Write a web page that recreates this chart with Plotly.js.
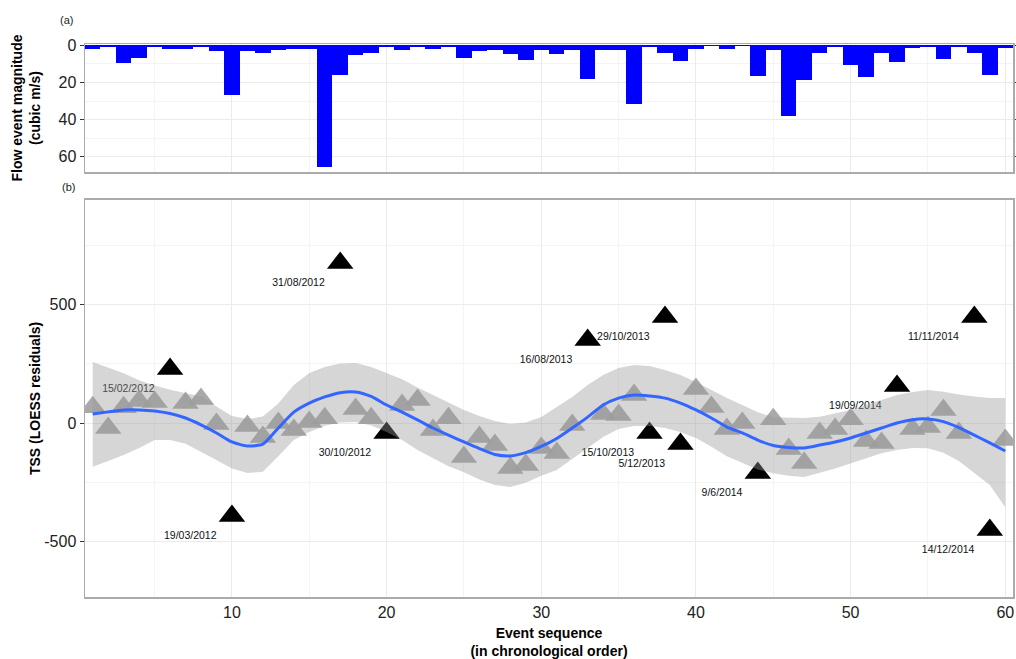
<!DOCTYPE html>
<html>
<head>
<meta charset="utf-8">
<script src="https://cdn.plot.ly/plotly-3.0.1.min.js"></script>
<style>html,body{margin:0;padding:0;background:#fff;}#chart{width:1016px;height:659px;}</style>
</head>
<body>
<div id="chart"></div>
<script>
// (a) flow event magnitude (cubic m/s), events 1..60
const flowMagnitude = [2,1,9.3,7.1,1,2,2,1,3.2,26.8,3,3.9,2.7,1.8,2,65.6,16.1,5,4.3,0.7,2.5,0.7,1.8,1,6.6,2.9,2.7,4.5,8,2.3,4.8,2.3,18,2.7,2.3,31.4,0.9,3.9,8.2,1.8,0.3,1.8,0.3,16.3,2.7,37.9,18.6,4.1,0.9,10.4,17,3.9,8.8,1.3,0.9,7.5,0.9,3.9,16.1,1.4];
const flowTickVals = [0, 20, 40, 60];

// (b) TSS LOESS residuals, ordinary events
const grayEvents = [1,2,3,4,5,7,8,9,11,12,13,14,15,16,18,19,21,22,23,24,25,26,27,28,29,30,31,32,34,35,36,40,41,42,43,45,46,47,48,49,50,51,52,54,55,56,57,60];
const grayResid = [67,-21,67,93,89,84,101,-4,-13,-59,0,-30,4,20,59,20,76,97,-30,20,-143,-59,-93,-190,-177,-105,-126,-8,38,34,118,143,68,-25,0,16,-110,-169,-42,-25,16,-76,-84,-25,-17,55,-42,-72];

// labelled events
const labelEvents = [6,10,17,20,33,37,38,39,44,53,58,59];
const labelResid = [228,-392,675,-42,350,-42,447,-89,-211,156,447,-451];
const labelDates = ['15/02/2012','19/03/2012','31/08/2012','30/10/2012','16/08/2013','15/10/2013','29/10/2013','5/12/2013','9/6/2014','19/09/2014','11/11/2014','14/12/2014'];

// smoother (fit, upper and lower confidence band), events 1..60
const smoothFit = [38,47,55,55,51,40,21,-8,-42,-80,-97,-89,-21,46,84,110,128,131,112,76,46,13,-21,-51,-80,-108,-133,-139,-125,-99,-65,-21,25,76,105,118,114,105,84,55,21,-17,-42,-72,-95,-103,-105,-93,-80,-63,-42,-21,0,14,17,6,-19,-51,-84,-118];
const smoothUpper = [257,235,210,180,158,140,127,112,70,30,17,27,82,160,211,236,251,253,236,212,185,150,118,84,55,30,8,-4,2,25,68,110,160,203,232,245,240,224,203,173,139,105,76,45,24,21,21,26,40,55,76,97,118,131,139,132,120,112,106,105];
const smoothLower = [-185,-160,-135,-105,-72,-72,-88,-122,-156,-192,-211,-206,-140,-72,-38,-12,2,4,-10,-38,-72,-114,-148,-182,-208,-238,-262,-270,-252,-222,-198,-152,-105,-59,-25,-13,-13,-21,-38,-63,-100,-140,-167,-196,-212,-222,-228,-210,-192,-172,-150,-128,-114,-105,-106,-125,-160,-210,-262,-355];
const residTickVals = [-500, 0, 500];
const residTickText = ['-500', '0', '500'];

const events = flowMagnitude.map((_, i) => i + 1);
const bandX = events.concat(events.slice().reverse());
const bandY = smoothUpper.concat(smoothLower.slice().reverse());

const gridMajor = '#EBEBEB';
const gridMinor = '#F4F4F4';
const frame = '#ABABAB';
const tickFont = {family: 'Liberation Sans, Arial, sans-serif', size: 16, color: '#222'};
const titleFont = {family: 'Liberation Sans, Arial, sans-serif', size: 14, color: '#000', weight: 'bold'};

const traces = [
  {
    type: 'bar', x: events, y: flowMagnitude, xaxis: 'x2', yaxis: 'y2',
    marker: {color: '#0000FF', line: {width: 0}}, width: 1
  },
  {
    type: 'scatter', mode: 'markers+text', x: labelEvents, y: labelResid, text: labelDates,
    textposition: 'bottom left',
    textfont: {family: 'Liberation Sans, Arial, sans-serif', size: 10.5, color: '#111'},
    marker: {symbol: 'triangle-up', size: 23, color: '#000'}, xaxis: 'x', yaxis: 'y', cliponaxis: false
  },
  {
    type: 'scatter', mode: 'markers', x: grayEvents, y: grayResid,
    marker: {symbol: 'triangle-up', size: 23, color: 'rgba(160,160,160,0.9)'}, xaxis: 'x', yaxis: 'y'
  },
  {
    type: 'scatter', mode: 'lines', x: bandX, y: bandY, fill: 'toself',
    fillcolor: 'rgba(153,153,153,0.4)', line: {width: 0, color: 'rgba(0,0,0,0)'}, xaxis: 'x3', yaxis: 'y3'
  },
  {
    type: 'scatter', mode: 'lines', x: events, y: smoothFit,
    line: {color: '#3366FF', width: 3, shape: 'spline', smoothing: 0.6}, xaxis: 'x3', yaxis: 'y3'
  }
];

const layout = {
  width: 1016, height: 659,
  margin: {l: 85, r: 3, t: 44, b: 62},
  paper_bgcolor: '#fff', plot_bgcolor: '#fff',
  showlegend: false, bargap: 0,
  font: {family: 'Liberation Sans, Arial, sans-serif'},
  xaxis: {
    domain: [0, 1], anchor: 'y', range: [0.5, 60.5], tick0: 0, dtick: 10,
    showgrid: true, gridcolor: gridMajor, gridwidth: 1,
    minor: {dtick: 5, showgrid: true, gridcolor: gridMinor, gridwidth: 1},
    showline: true, mirror: true, linecolor: frame, linewidth: 1.5,
    ticks: '', tickfont: tickFont, zeroline: false,
    title: {text: '<b>Event sequence</b><br><b>(in chronological order)</b>', font: titleFont, standoff: 10}
  },
  yaxis: {
    domain: [0, 0.718], anchor: 'x', range: [-734, 941],
    tickmode: 'array', tickvals: residTickVals, ticktext: residTickText,
    showgrid: true, gridcolor: gridMajor, gridwidth: 1,
    minor: {tickmode: 'array', tickvals: [-750, -250, 250, 750], showgrid: true, gridcolor: gridMinor, gridwidth: 1},
    showline: true, mirror: true, linecolor: frame, linewidth: 1.5,
    ticks: 'outside', ticklen: 4, tickcolor: '#333', tickfont: tickFont, zeroline: false,
    title: {text: '<b>TSS (LOESS residuals)</b>', font: titleFont, standoff: 0}
  },
  xaxis3: {overlaying: 'x', matches: 'x', anchor: 'y3', visible: false},
  yaxis3: {overlaying: 'y', matches: 'y', anchor: 'x3', visible: false},
  xaxis2: {
    domain: [0, 1], anchor: 'y2', range: [0.5, 60.5], tick0: 0, dtick: 10, matches: 'x',
    showgrid: true, gridcolor: gridMajor, gridwidth: 1,
    minor: {dtick: 5, showgrid: true, gridcolor: gridMinor, gridwidth: 1},
    showline: true, mirror: true, linecolor: frame, linewidth: 1.5,
    ticks: '', showticklabels: false, zeroline: false
  },
  yaxis2: {
    domain: [0.7685, 1], anchor: 'x2', range: [68.2, -0.7],
    tickmode: 'array', tickvals: flowTickVals,
    showgrid: true, gridcolor: gridMajor, gridwidth: 1,
    minor: {dtick: 10, showgrid: true, gridcolor: gridMinor, gridwidth: 1},
    showline: true, mirror: 'all', linecolor: frame, linewidth: 1.5,
    ticks: 'outside', ticklen: 4, tickcolor: '#333', tickfont: tickFont, zeroline: false,
    layer: 'below traces',
    title: {text: '<b>Flow event magnitude</b><br><b>(cubic m/s)</b>', font: titleFont, standoff: 14}
  },
  annotations: [
    {text: '(a)', xref: 'paper', yref: 'paper', x: -0.0194, y: 1.0434, showarrow: false,
     xanchor: 'center', yanchor: 'middle', font: {family: 'Liberation Sans, Arial, sans-serif', size: 11, color: '#222'}},
    {text: '(b)', xref: 'paper', yref: 'paper', x: -0.0183, y: 0.7414, showarrow: false,
     xanchor: 'center', yanchor: 'middle', font: {family: 'Liberation Sans, Arial, sans-serif', size: 11, color: '#222'}}
  ]
};

Plotly.newPlot('chart', traces, layout, {displayModeBar: false, staticPlot: true});
</script>
</body>
</html>
